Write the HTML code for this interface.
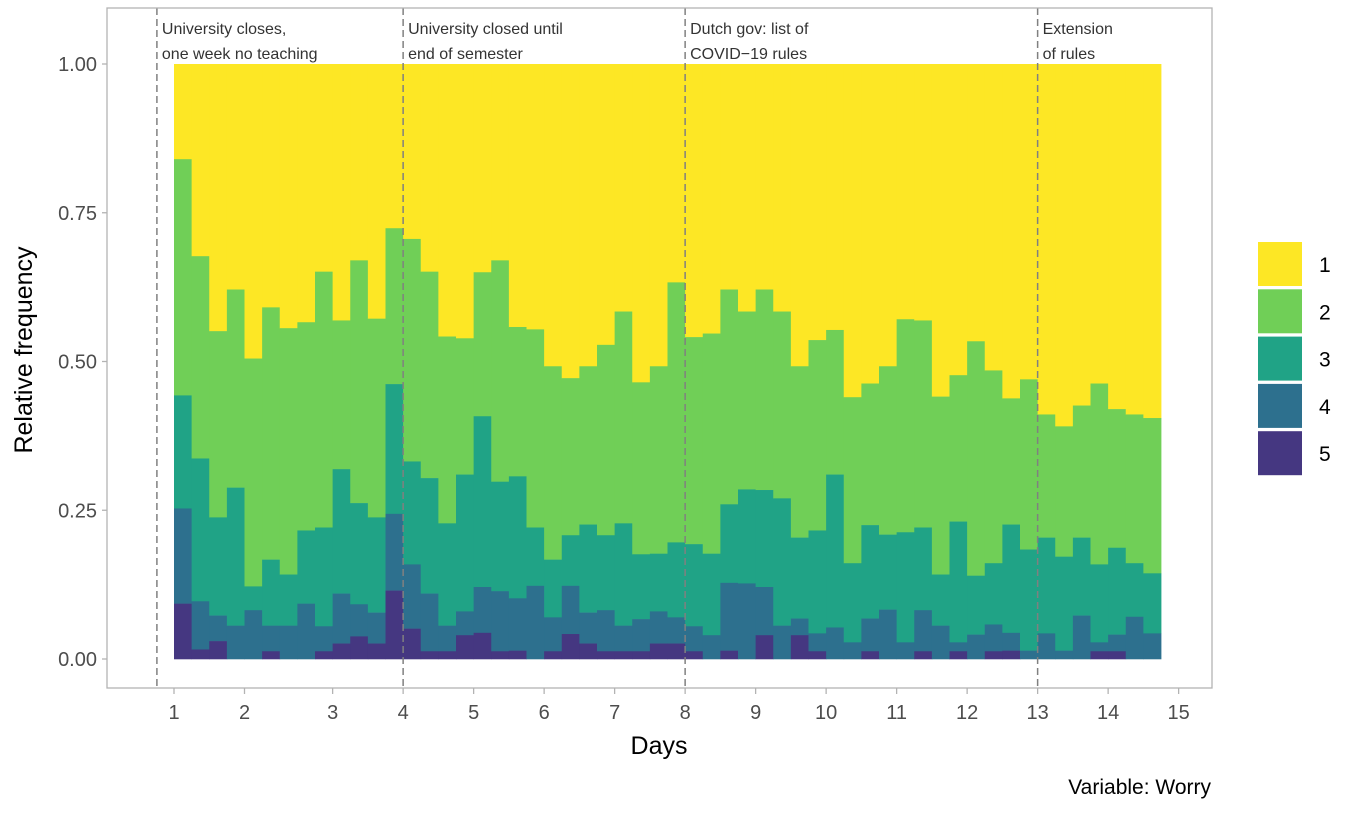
<!DOCTYPE html>
<html><head><meta charset="utf-8"><style>
body{margin:0;background:#fff;}
svg text{font-family:"Liberation Sans",Arial,sans-serif;}
</style></head><body>
<svg id="chart" width="1358" height="809" xmlns="http://www.w3.org/2000/svg">
<rect x="0" y="0" width="1358" height="809" fill="#fff"/>
<g id="bars"></g>
<g id="vlines"></g>
<rect x="107" y="8" width="1105" height="680" fill="none" stroke="#b3b3b3" stroke-width="1.3"/>
<g id="yaxis"></g>
<g id="xaxis"></g>
<text x="659" y="754" font-size="25" text-anchor="middle" fill="#000">Days</text>
<text transform="translate(32,350) rotate(-90)" font-size="25" text-anchor="middle" fill="#000">Relative frequency</text>
<g id="legend"></g>
<text x="1211" y="794" font-size="21" text-anchor="end" fill="#000">Variable: Worry</text>
</svg>
<script>
// cumulative share of responses at or above each level, per measurement
const cumLevel2plus = [0.840,0.677,0.551,0.621,0.505,0.591,0.556,0.566,0.651,0.569,0.670,0.572,0.724,0.706,
0.651,0.542,0.539,0.650,0.670,0.558,0.554,0.492,0.472,0.492,0.528,0.584,0.465,0.492,0.633,
0.541,0.547,0.621,0.584,0.621,0.584,0.492,0.536,0.553,0.440,0.463,0.492,0.571,0.569,
0.441,0.477,0.534,0.485,0.438,0.470,0.411,0.391,0.426,0.463,0.420,0.411,0.405];
const cumLevel3plus = [0.443,0.337,0.238,0.288,0.122,0.167,0.142,0.216,0.221,0.319,0.262,0.238,0.462,0.332,
0.304,0.228,0.310,0.408,0.298,0.307,0.221,0.167,0.208,0.226,0.208,0.228,0.176,0.177,0.196,
0.193,0.177,0.260,0.285,0.284,0.270,0.204,0.216,0.310,0.161,0.225,0.209,0.213,0.221,
0.142,0.231,0.140,0.161,0.226,0.184,0.204,0.172,0.204,0.159,0.187,0.161,0.144];
const cumLevel4plus = [0.253,0.097,0.073,0.056,0.082,0.056,0.056,0.093,0.055,0.110,0.092,0.078,0.244,0.159,
0.110,0.056,0.080,0.121,0.114,0.102,0.123,0.070,0.123,0.078,0.082,0.056,0.067,0.080,0.070,
0.055,0.040,0.128,0.127,0.121,0.056,0.068,0.043,0.053,0.028,0.068,0.083,0.028,0.082,
0.056,0.028,0.041,0.058,0.044,0.014,0.043,0.014,0.073,0.028,0.041,0.071,0.043];
const cumLevel5 = [0.093,0.016,0.030,0,0,0.013,0,0,0.013,0.026,0.038,0.026,0.115,0.051,
0.013,0.013,0.040,0.044,0.013,0.014,0,0.013,0.042,0.026,0.013,0.013,0.013,0.026,0.026,
0.013,0,0.014,0,0.040,0,0.040,0.013,0,0,0.013,0,0,0.013,
0,0.013,0,0.013,0.014,0,0,0,0,0.013,0.013,0,0];
const dayTicks = [1,2,3,4,5,6,7,8,9,10,11,12,13,14,15];
const dayTickIndex = [0,4,9,13,17,21,25,29,33,37,41,45,49,53,57];
const yTicks = [0,0.25,0.5,0.75,1];
const yTickLabels = ["0.00","0.25","0.50","0.75","1.00"];
const eventIndex = [-0.97,13,29,49];
const eventLabels = [["University closes,","one week no teaching"],["University closed until","end of semester"],["Dutch gov: list of","COVID\u221219 rules"],["Extension","of rules"]];
const levels = ["1","2","3","4","5"];
const colors = ["#FDE725","#70CF57","#20A386","#2D708E","#453781"];

const NS="http://www.w3.org/2000/svg";
const X0=174, BW=17.625, Y0=659, YH=595;
const xs = t => X0 + t*BW;
const ys = v => Y0 - v*YH;
function mk(tag, attrs, parent){const e=document.createElementNS(NS,tag);for(const k in attrs)e.setAttribute(k,attrs[k]);parent.appendChild(e);return e;}

const bars=document.getElementById('bars');
for(let i=0;i<cumLevel2plus.length;i++){
  const bounds=[1,cumLevel2plus[i],cumLevel3plus[i],cumLevel4plus[i],cumLevel5[i],0];
  for(let k=0;k<5;k++){
    const top=bounds[k], bot=bounds[k+1];
    if(top<=bot) continue;
    const r=mk('rect',{x:xs(i),y:ys(top),width:BW+0.4,height:ys(bot)-ys(top)+0.3,fill:colors[k]},bars);
    
    
  }
}
const vl=document.getElementById('vlines');
eventIndex.forEach((t,j)=>{
  const l=mk('line',{x1:xs(t),x2:xs(t),y1:8,y2:688,stroke:'#808080','stroke-width':1.5,'stroke-dasharray':'7,4'},vl);
  
  
  eventLabels[j].forEach((s,m)=>{
    const tx=mk('text',{x:xs(t)+5,y:34+m*25,'font-size':16,fill:'#333'},vl);
    tx.textContent=s;
    
    
  });
});
const ya=document.getElementById('yaxis');
yTicks.forEach((v,j)=>{
  const l=mk('line',{x1:102,x2:107,y1:ys(v),y2:ys(v),stroke:'#b3b3b3','stroke-width':1.3},ya);
  
  
  const t=mk('text',{x:97,y:ys(v)+7,'font-size':20,'text-anchor':'end',fill:'#4d4d4d'},ya);
  t.textContent=yTickLabels[j];
  
  
});
const xa=document.getElementById('xaxis');
dayTicks.forEach((d,j)=>{
  const x=xs(dayTickIndex[j]);
  const l=mk('line',{x1:x,x2:x,y1:688,y2:694,stroke:'#b3b3b3','stroke-width':1.3},xa);
  
  
  const t=mk('text',{x:x,y:719,'font-size':20,'text-anchor':'middle',fill:'#4d4d4d'},xa);
  t.textContent=d;
  
  
});
const lg=document.getElementById('legend');
levels.forEach((s,k)=>{
  const y=242+k*47.3;
  const r=mk('rect',{x:1258,y:y,width:44,height:44,fill:colors[k]},lg);
  
  
  const t=mk('text',{x:1319,y:y+30,'font-size':21,fill:'#000'},lg);
  t.textContent=s;
  
  
});
</script>
</body></html>
